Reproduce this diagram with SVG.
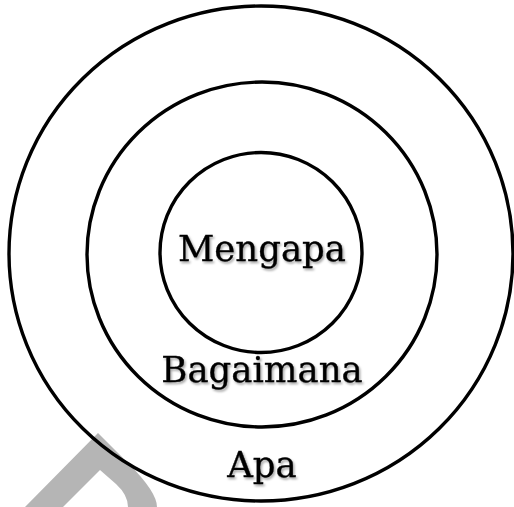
<svg xmlns="http://www.w3.org/2000/svg" width="514" height="507" viewBox="0 0 514 507">
<defs>
<style>
.ring{fill:none;stroke:#000;stroke-width:3.4}
.lbl{font-family:"DejaVu Serif","Liberation Serif",serif;font-size:35.5px;fill:#000;stroke:#000;stroke-width:0.35;text-anchor:middle;filter:url(#sh)}
</style>
<filter id="sh" x="-10%" y="-30%" width="120%" height="160%">
<feDropShadow dx="1.5" dy="2" stdDeviation="1.3" flood-color="#000" flood-opacity="0.35"/>
</filter>
</defs>
<rect width="514" height="507" fill="#fff"/>
<path d="M25,507 L98,433 L128,463 Q157,492 157,507 L128,507 Q128,495 116,484 L100,470 L63,507 Z" fill="#b5b5b5"/>
<g id="outer">
<ellipse class="ring" cx="261" cy="253.5" rx="252" ry="247.5"/>
<text class="lbl" x="262" y="477">Apa</text>
</g>
<g id="middle">
<ellipse class="ring" cx="262" cy="254.5" rx="175" ry="172.5"/>
<text class="lbl" x="262" y="382">Bagaimana</text>
</g>
<g id="inner">
<ellipse class="ring" cx="261" cy="252.5" rx="101" ry="100"/>
<text class="lbl" x="262" y="261">Mengapa</text>
</g>
<g id="connectors"/>
</svg>
